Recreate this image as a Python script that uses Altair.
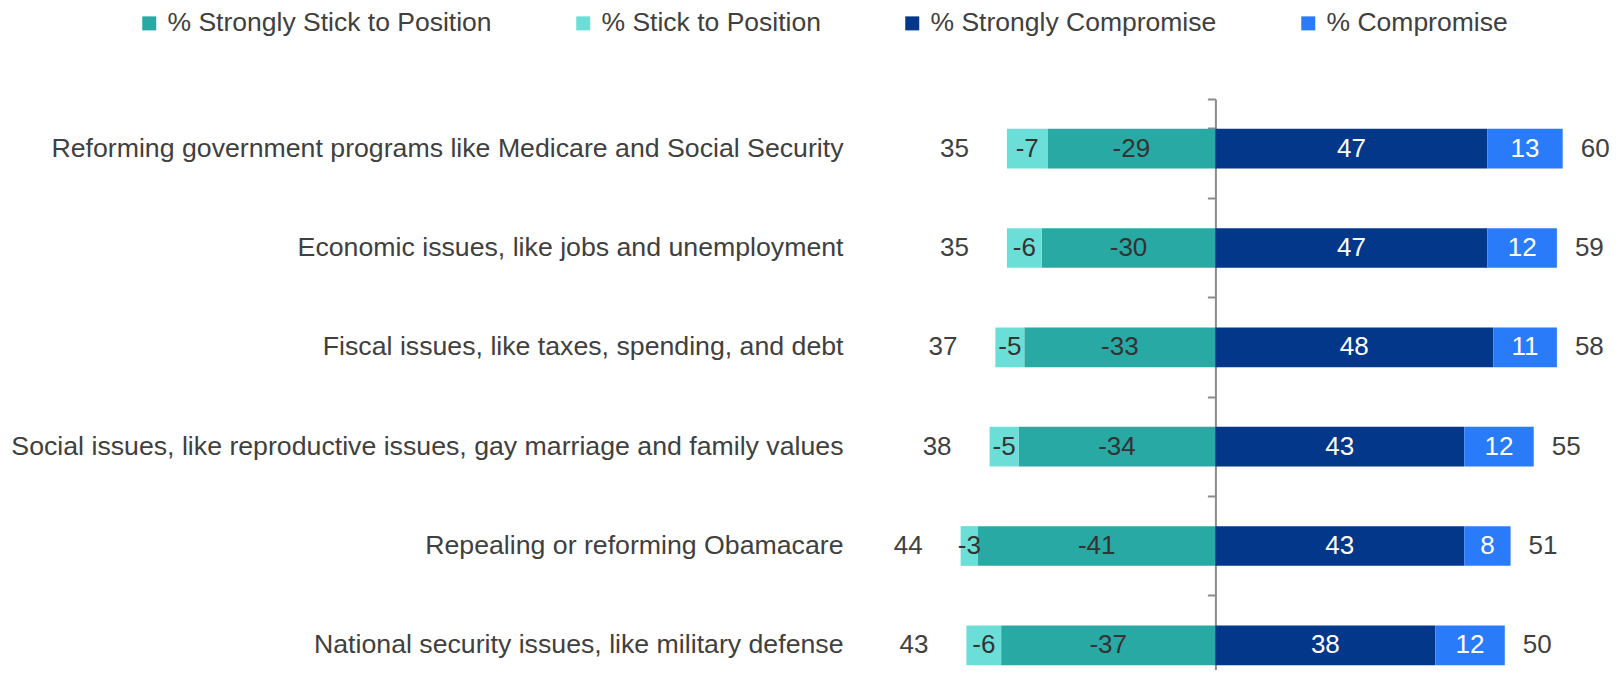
import altair as alt
import pandas as pd

categories = [
    "Reforming government programs like Medicare and Social Security",
    "Economic issues, like jobs and unemployment",
    "Fiscal issues, like taxes, spending, and debt",
    "Social issues, like reproductive issues, gay marriage and family values",
    "Repealing or reforming Obamacare",
    "National security issues, like military defense",
]
strongly_stick = [-29, -30, -33, -34, -41, -37]
stick = [-7, -6, -5, -5, -3, -6]
strongly_compromise = [47, 47, 48, 43, 43, 38]
compromise = [13, 12, 11, 12, 8, 12]
total_stick = [35, 35, 37, 38, 44, 43]
total_compromise = [60, 59, 58, 55, 51, 50]

series = ["% Strongly Stick to Position", "% Stick to Position",
          "% Strongly Compromise", "% Compromise"]
colors = ["#29A9A4", "#6CDED8", "#03378A", "#2A7BFA"]
label_colors = ["#333333", "#333333", "#FFFFFF", "#FFFFFF"]

rows = []
for i, c in enumerate(categories):
    segs = [
        (series[0], 0, strongly_stick[i], strongly_stick[i]),
        (series[1], strongly_stick[i], strongly_stick[i] + stick[i], stick[i]),
        (series[2], 0, strongly_compromise[i], strongly_compromise[i]),
        (series[3], strongly_compromise[i], strongly_compromise[i] + compromise[i], compromise[i]),
    ]
    for k, (s, a, b, v) in enumerate(segs):
        rows.append({"cat": c, "series": s, "start": a, "end": b,
                     "mid": (a + b) / 2, "label": str(v), "tcolor": label_colors[k]})
df = pd.DataFrame(rows)

tot = pd.DataFrame({
    "cat": categories,
    "left": [strongly_stick[i] + stick[i] for i in range(len(categories))],
    "right": [strongly_compromise[i] + compromise[i] for i in range(len(categories))],
    "tl": [str(v) for v in total_stick],
    "tr": [str(v) for v in total_compromise],
})

FONT = "Liberation Sans"
TXT = "#404040"
FS = 26


def yscale():
    return alt.Scale(domain=categories, range=[0, 596], paddingInner=0.6, paddingOuter=0.3)


xscale = alt.Scale(domain=[-60, 68], nice=False, zero=False)

# axis carrying the category labels only
y_labels = alt.Y("cat:N", scale=yscale(), sort=categories, title=None,
                 axis=alt.Axis(orient="left", domain=False, ticks=False, labelPadding=25,
                               labelFontSize=26.7, labelFont=FONT, labelColor=TXT,
                               labelLimit=900, grid=False))

# axis drawing the centre line and band-boundary ticks only
y_line = alt.Y("cat:N", scale=yscale(), sort=categories, title=None,
               axis=alt.Axis(orient="left", offset=-347.4, labels=False,
                             tickSize=8, tickWidth=2, domainWidth=2,
                             tickColor="#8C8C8C", domainColor="#8C8C8C",
                             bandPosition=-0.75, tickExtra=True, grid=False))

bars = alt.Chart(df).mark_bar().encode(
    y=y_labels,
    x=alt.X("start:Q", scale=xscale, axis=None),
    x2="end:Q",
    color=alt.Color("series:N", scale=alt.Scale(domain=series, range=colors),
                    legend=alt.Legend(title=None, orient="none", legendX=-732, legendY=-89,
                                      direction="horizontal", columns=4, symbolType="square",
                                      symbolSize=196, symbolStrokeWidth=0, labelFontSize=26.5,
                                      labelFont=FONT, labelColor=TXT, columnPadding=78,
                                      labelOffset=5, labelLimit=600)),
)

seg_text = alt.Chart(df).mark_text(fontSize=FS, font=FONT, baseline="middle", align="center").encode(
    y=alt.Y("cat:N", scale=yscale(), sort=categories, axis=None),
    x=alt.X("mid:Q", scale=xscale, axis=None),
    text="label:N",
    color=alt.Color("tcolor:N", scale=None),
)

left_text = alt.Chart(tot).mark_text(fontSize=FS, font=FONT, baseline="middle", align="right",
                                     dx=-38, color=TXT).encode(
    y=y_line,
    x=alt.X("left:Q", scale=xscale, axis=None),
    text="tl:N",
)

right_text = alt.Chart(tot).mark_text(fontSize=FS, font=FONT, baseline="middle", align="left",
                                      dx=18, color=TXT).encode(
    y=alt.Y("cat:N", scale=yscale(), sort=categories, axis=None),
    x=alt.X("right:Q", scale=xscale, axis=None),
    text="tr:N",
)

chart = alt.layer(bars, seg_text, left_text, right_text).resolve_axis(
    y="independent"
).properties(
    width=741, height=571,
    autosize=alt.AutoSizeParams(type="none"),
    padding={"left": 860, "top": 91, "right": 0, "bottom": 0},
).configure_view(stroke=None)

chart.save("out.html", embed_options={"renderer": "svg", "actions": False})
